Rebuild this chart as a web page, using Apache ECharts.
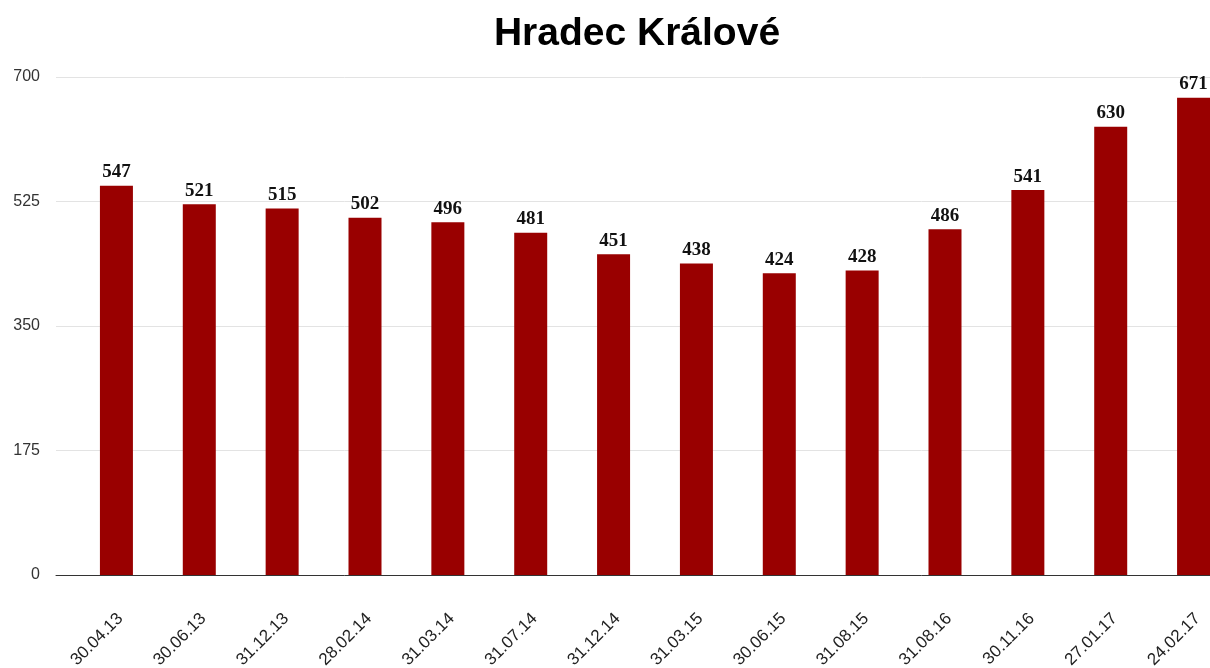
<!DOCTYPE html>
<html><head><meta charset="utf-8">
<script src="https://cdn.jsdelivr.net/npm/echarts@6/dist/echarts.min.js"></script>
<style>html,body{margin:0;padding:0;background:#fff}#c{width:1210px;height:668px}</style>
</head><body><div id="c"></div>
<script>
const categories = ['30.04.13','30.06.13','31.12.13','28.02.14','31.03.14','31.07.14','31.12.14','31.03.15','30.06.15','31.08.15','31.08.16','30.11.16','27.01.17','24.02.17'];
const values = [547,521,515,502,496,481,451,438,424,428,486,541,630,671];
const yTicks = [0,175,350,525,700];
const titleText = 'Hradec Králové';

const chart = echarts.init(document.getElementById('c'), null, {renderer:'canvas'});
chart.setOption({
  animation:false,
  backgroundColor:'#fff',
  title:{text:titleText,left:632,top:10,textAlign:'center',
    textStyle:{fontFamily:'Liberation Sans, Arial, sans-serif',fontWeight:'bold',fontSize:39,color:'#000'}},
  grid:[
    {left:56,top:77,width:1154,height:498,containLabel:false,outerBoundsMode:'none'},
    {left:75,top:77,width:1160,height:498,containLabel:false,outerBoundsMode:'none'},
    {left:79,top:77,width:1160,height:498,containLabel:false,outerBoundsMode:'none'}
  ],
  xAxis:[
    {gridIndex:0,type:'category',data:categories,axisLabel:{show:false},axisTick:{show:false},
      axisLine:{show:true,lineStyle:{color:'#333',width:1}}},
    {gridIndex:1,type:'category',data:categories,axisLine:{show:false},axisTick:{show:false},axisLabel:{show:false}},
    {gridIndex:2,type:'category',data:categories,axisLine:{show:false},axisTick:{show:false},
      axisLabel:{rotate:45,margin:41,interval:0,fontFamily:'Liberation Sans, Arial, sans-serif',fontSize:17,color:'#222'}}
  ],
  yAxis:[
    {gridIndex:0,type:'value',min:yTicks[0],max:yTicks[yTicks.length-1],interval:175,
      axisLine:{show:false},axisTick:{show:false},
      axisLabel:{margin:16,fontFamily:'Liberation Sans, Arial, sans-serif',fontSize:16,color:'#333'},
      splitLine:{lineStyle:{color:'#e3e3e3',width:1}}},
    {gridIndex:1,type:'value',min:yTicks[0],max:yTicks[yTicks.length-1],interval:175,show:false,splitLine:{show:false}},
    {gridIndex:2,type:'value',min:yTicks[0],max:yTicks[yTicks.length-1],interval:175,show:false,splitLine:{show:false}}
  ],
  series:[{
    type:'bar',xAxisIndex:1,yAxisIndex:1,data:values,barWidth:33,
    itemStyle:{color:'#990000'},
    label:{show:true,position:'top',distance:4,fontFamily:'Liberation Serif, Times New Roman, serif',fontSize:19,fontWeight:'bold',color:'#111'}
  }]
});
</script></body></html>
